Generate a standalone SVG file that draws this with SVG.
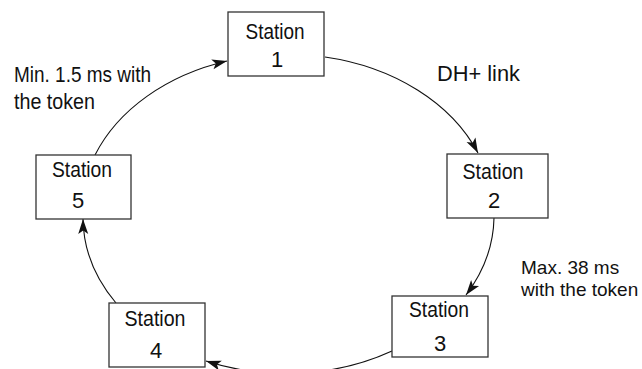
<svg xmlns="http://www.w3.org/2000/svg" width="642" height="369" viewBox="0 0 642 369">
<style>
.box{fill:#fff;stroke:#333;stroke-width:1.3}
.t{font-family:"Liberation Sans",Arial,sans-serif;font-size:22px;fill:#111}
.s{font-size:19px}
.c{text-anchor:middle}
.conn{fill:none;stroke:#111;stroke-width:1.1}
</style>
<defs>
<marker id="ah" markerUnits="userSpaceOnUse" markerWidth="15" markerHeight="10" refX="15" refY="5" orient="auto" overflow="visible">
<path d="M0,0 L15,5 L0,10 L3.5,5 z" fill="#111"/>
</marker>
</defs>
<rect width="642" height="369" fill="#fff"/>
<g id="connectors">
<path class="conn" d="M325,57 A206,158 0 0 1 478,153" marker-end="url(#ah)"/>
<path class="conn" d="M494,218 A206,158 0 0 1 466,295" marker-end="url(#ah)"/>
<path class="conn" d="M392,351 A206,158 0 0 1 206,361" marker-end="url(#ah)"/>
<path class="conn" d="M116,303 A206,158 0 0 1 83,219" marker-end="url(#ah)"/>
<path class="conn" d="M95,155 A206,158 0 0 1 227,61" marker-end="url(#ah)"/>
</g>
<g id="station1">
<rect class="box" x="228" y="12" width="96" height="64"/>
<text class="t c" x="275" y="39" textLength="59" lengthAdjust="spacingAndGlyphs">Station</text>
<text class="t c" x="277" y="67">1</text>
</g>
<g id="station2">
<rect class="box" x="447" y="154" width="101" height="64"/>
<text class="t c" x="493" y="179" textLength="61" lengthAdjust="spacingAndGlyphs">Station</text>
<text class="t c" x="494" y="208">2</text>
</g>
<g id="station3">
<rect class="box" x="392" y="296" width="96" height="61"/>
<text class="t c" x="439" y="317" textLength="60" lengthAdjust="spacingAndGlyphs">Station</text>
<text class="t c" x="440" y="351">3</text>
</g>
<g id="station4">
<rect class="box" x="109" y="303" width="96" height="64"/>
<text class="t c" x="155" y="326" textLength="61" lengthAdjust="spacingAndGlyphs">Station</text>
<text class="t c" x="156" y="358">4</text>
</g>
<g id="station5">
<rect class="box" x="36" y="155" width="95" height="64"/>
<text class="t c" x="82" y="177" textLength="60" lengthAdjust="spacingAndGlyphs">Station</text>
<text class="t c" x="78" y="208">5</text>
</g>
<g id="labels">
<text class="t" x="14" y="82" textLength="137" lengthAdjust="spacingAndGlyphs">Min. 1.5 ms with</text>
<text class="t" x="14" y="109" textLength="81" lengthAdjust="spacingAndGlyphs">the token</text>
<text class="t" x="437" y="81" textLength="83" lengthAdjust="spacingAndGlyphs">DH+ link</text>
<text class="t s" x="521" y="274">Max. 38 ms</text>
<text class="t s" x="521" y="296">with the token</text>
</g>
</svg>
